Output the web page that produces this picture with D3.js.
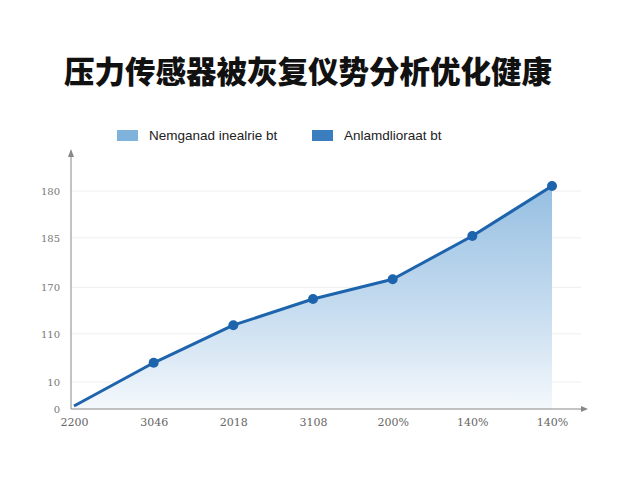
<!DOCTYPE html>
<html>
<head>
<meta charset="utf-8">
<script src="https://cdn.jsdelivr.net/npm/d3@7"></script>
<style>
  body { margin: 0; background: #fff; }
  svg { font-family: "Liberation Sans", "DejaVu Sans", sans-serif; }
</style>
</head>
<body>
<div id="chart"></div>
<script>
// data
var categories = ["2200", "3046", "2018", "3108", "200%", "140%", "140%"];
var values = [1.2, 18.2, 33.0, 43.3, 51.1, 68.1, 87.8];
var yTickValues = [0, 10.6, 29.6, 47.9, 67.4, 85.8];
var yTickLabels = ["0", "10", "110", "170", "185", "180"];
var legendLabels = ["Nemganad inealrie bt", "Anlamdlioraat bt"];
var legendColors = ["#80b3dc", "#3b7ec0"];
var title = "压力传感器被灰复仪势分析优化健康";

var svgWidth = 640;
var svgHeight = 480;

var margin = { top: 155, right: 90, bottom: 71, left: 71 };
var width = svgWidth - margin.left - margin.right;
var height = svgHeight - margin.top - margin.bottom;

var svg = d3.select("#chart")
    .append("svg")
    .attr("width", svgWidth)
    .attr("height", svgHeight);

// title
svg.append("text")
    .attr("x", 308)
    .attr("y", 83)
    .attr("text-anchor", "middle")
    .style("font-family", "'Noto Sans CJK SC', sans-serif")
    .style("font-weight", "900")
    .style("font-size", "30.5px")
    .attr("fill", "#111")
    .text(title);

// legend
var legendX = [117, 312];
legendLabels.forEach(function (lab, i) {
    svg.append("rect")
        .attr("x", legendX[i])
        .attr("y", 130)
        .attr("width", 21)
        .attr("height", 11)
        .attr("fill", legendColors[i]);
    svg.append("text")
        .attr("x", legendX[i] + 32)
        .attr("y", 140)
        .style("font-size", "13.5px")
        .attr("fill", "#222")
        .text(lab);
});

var chart = svg.append("g")
    .attr("transform", `translate(${margin.left},${margin.top})`);

// scales
var idx = d3.range(categories.length);
var x = d3.scalePoint()
    .domain(idx)
    .range([3, 481]);

var y = d3.scaleLinear()
    .domain([0, 100])
    .range([height, 0]);

// gradient for the area
var defs = svg.append("defs");
var grad = defs.append("linearGradient")
    .attr("id", "areaGrad")
    .attr("x1", 0).attr("y1", 0)
    .attr("x2", 0).attr("y2", 1);
grad.append("stop").attr("offset", "0%").attr("stop-color", "#96bfe2");
grad.append("stop").attr("offset", "55%").attr("stop-color", "#c6dcef");
grad.append("stop").attr("offset", "100%").attr("stop-color", "#f4f8fc");

// gridlines
chart.selectAll(".grid")
    .data(yTickValues.slice(1))
    .enter()
    .append("line")
    .attr("x1", 0)
    .attr("x2", 510)
    .attr("y1", d => y(d))
    .attr("y2", d => y(d))
    .attr("stroke", "#eeeeee")
    .attr("stroke-width", 1);

// area
var area = d3.area()
    .x(d => x(d))
    .y0(height)
    .y1(d => y(values[d]));

chart.append("path")
    .datum(idx)
    .attr("d", area)
    .attr("fill", "url(#areaGrad)");

// axes
var yAxis = d3.axisLeft(y)
    .tickValues(yTickValues)
    .tickSize(0)
    .tickPadding(11)
    .tickFormat((d, i) => yTickLabels[i]);

var yG = chart.append("g").call(yAxis);
yG.select(".domain").remove();
yG.selectAll("text")
    .style("font-size", "10px")
    .style("font-family", "'DejaVu Serif', serif")
    .attr("fill", "#777");

var xAxis = d3.axisBottom(x)
    .tickSize(0)
    .tickPadding(9)
    .tickFormat(d => categories[d]);

var xG = chart.append("g")
    .attr("transform", `translate(0,${height})`)
    .call(xAxis);
xG.select(".domain").remove();
xG.selectAll("text")
    .style("font-size", "11px")
    .style("font-family", "'DejaVu Serif', serif")
    .attr("fill", "#666");

// axis lines with arrows
chart.append("line")
    .attr("x1", 0).attr("y1", height)
    .attr("x2", 0).attr("y2", -4)
    .attr("stroke", "#888").attr("stroke-width", 1);
chart.append("path")
    .attr("d", "M-3,2 L0,-6 L3,2 Z")
    .attr("fill", "#888");

chart.append("line")
    .attr("x1", 0).attr("y1", height)
    .attr("x2", 514).attr("y2", height)
    .attr("stroke", "#888").attr("stroke-width", 1);
chart.append("path")
    .attr("d", `M510,${height - 3} L517,${height} L510,${height + 3} Z`)
    .attr("fill", "#888");

// line
var line = d3.line()
    .x(d => x(d))
    .y(d => y(values[d]));

chart.append("path")
    .datum(idx)
    .attr("d", line)
    .attr("fill", "none")
    .attr("stroke", "#1d64ad")
    .attr("stroke-width", 3)
    .attr("stroke-linejoin", "round");

// markers (not on the first point)
chart.selectAll(".dot")
    .data(idx.slice(1))
    .enter()
    .append("circle")
    .attr("cx", d => x(d))
    .attr("cy", d => y(values[d]))
    .attr("r", 5)
    .attr("fill", "#1d64ad");
</script>
</body>
</html>
